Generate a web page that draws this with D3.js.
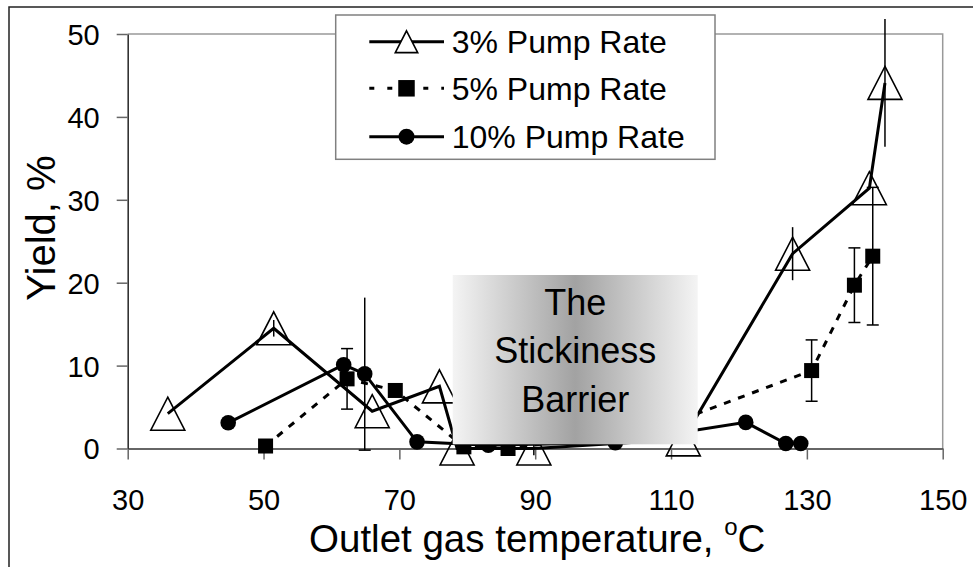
<!DOCTYPE html>
<html>
<head>
<meta charset="utf-8">
<script src="https://cdn.jsdelivr.net/npm/d3@7"></script>
<style>
  html, body { margin: 0; padding: 0; background: #fff; }
  svg { display: block; font-family: "Liberation Sans", Arial, sans-serif; }
</style>
</head>
<body>
<svg id="chart" width="973" height="567"></svg>
<script>
// Yield vs outlet gas temperature for three pump rates
const xTicks = [30, 50, 70, 90, 110, 130, 150];
const yTicks = [0, 10, 20, 30, 40, 50];

const temp3  = [35.9, 51.5, 66.0, 75.9, 78.5, 89.8, 111.8, 127.9, 139.2, 141.5];
const yield3 = [4.2, 14.5, 4.5, 7.5, 0.0, 0.0, 1.1, 23.5, 31.4, 44.1];
const err3   = [0, 1.0, 0, 0, 0, 0.8, 0, 3.2, 0, 7.7];

const temp5  = [50.3, 62.3, 69.4, 79.5, 86.0, 108.0, 130.7, 137.0, 139.7];
const yield5 = [0.3, 8.4, 7.0, 0.2, 0.0, 2.4, 9.4, 19.7, 23.2];
const err5   = [0, 3.65, 0, 0, 0, 0, 3.7, 4.5, 8.3];

const temp10  = [44.8, 61.8, 64.9, 72.6, 83.1, 101.8, 121.0, 126.9, 129.1];
const yield10 = [3.1, 10.1, 9.0, 0.8, 0.4, 0.7, 3.15, 0.6, 0.6];
const err10   = [0, 0, 9.2, 0, 0, 0, 0, 0, 0];

const seriesNames = ["3% Pump Rate", "5% Pump Rate", "10% Pump Rate"];
const annotationLines = ["The", "Stickiness", "Barrier"];

const svg = d3.select("#chart");
const plotL = 127.7, plotR = 942.7, plotT = 34, plotB = 448.5;

const x = d3.scaleLinear().domain([30, 150]).range([plotL, plotR]);
const y = d3.scaleLinear().domain([0, 50]).range([plotB, plotT]);

// outer frame
svg.append("rect").attr("x", 9).attr("y", 7).attr("width", 990).attr("height", 600)
  .attr("fill", "none").attr("stroke", "#222").attr("stroke-width", 1.5);

// plot-area border (top and right)
svg.append("path")
  .attr("d", `M${plotL},${plotT}H${plotR}V${plotB}`)
  .attr("fill", "none").attr("stroke", "#999").attr("stroke-width", 1.5);

// axes
const xAxis = d3.axisBottom(x).tickValues(xTicks).tickSize(11).tickPadding(30).tickSizeOuter(0);
const yAxis = d3.axisLeft(y).tickValues(yTicks).tickSize(11).tickPadding(17).tickSizeOuter(0);

const gx = svg.append("g").attr("transform", `translate(0,${plotB})`).call(xAxis);
const gy = svg.append("g").attr("transform", `translate(${plotL},0)`).call(yAxis);
[gx, gy].forEach(g => {
  g.select(".domain").attr("stroke", "#333").attr("stroke-width", 1.6);
  g.selectAll(".tick line").attr("stroke", "#666").attr("stroke-width", 1.5);
  g.selectAll(".tick text").attr("fill", "#000").attr("font-size", 29)
    .attr("font-family", "'Liberation Sans', Arial, sans-serif");
});
gx.selectAll(".tick text").attr("dy", "0.71em");
gy.selectAll(".tick text").attr("dy", "0.36em");

// axis titles
const xt = svg.append("text").attr("x", (plotL + plotR) / 2 + 2).attr("y", 552)
  .attr("text-anchor", "middle").attr("font-size", 38.5).attr("fill", "#000");
xt.append("tspan").text("Outlet gas temperature, ");
xt.append("tspan").attr("font-size", 24).attr("dy", -17).text("o");
xt.append("tspan").attr("dy", 17).text("C");

svg.append("text").attr("transform", "translate(55,228) rotate(-90)")
  .attr("text-anchor", "middle").attr("font-size", 40).attr("fill", "#000")
  .text("Yield, %");

// marker shapes
const triPath = "M0,-16.5L17,16.5L-17,16.5Z";
function marker(g, kind, cx, cy, scale) {
  const s = scale || 1;
  if (kind === "tri") {
    g.append("path").attr("d", triPath)
      .attr("transform", `translate(${cx},${cy}) scale(${s})`)
      .attr("fill", "none").attr("stroke", "#000").attr("stroke-width", 1.6 / s);
  } else if (kind === "sq") {
    const h = 7.5 * s;
    g.append("rect").attr("x", cx - h).attr("y", cy - h).attr("width", 2 * h).attr("height", 2 * h)
      .attr("fill", "#000");
  } else {
    g.append("circle").attr("cx", cx).attr("cy", cy).attr("r", 7.8 * s).attr("fill", "#000");
  }
}

const series = [
  { xs: temp3,  ys: yield3,  es: err3,  kind: "tri", dash: null,  capTop: false, capBottom: false },
  { xs: temp5,  ys: yield5,  es: err5,  kind: "sq",  dash: "7,8", capTop: true,  capBottom: true },
  { xs: temp10, ys: yield10, es: err10, kind: "dot", dash: null,  capTop: false, capBottom: true }
];

const line = d3.line().x(d => x(d[0])).y(d => y(d[1]));

series.forEach(s => {
  const g = svg.append("g");
  const pts = s.xs.map((t, i) => [t, s.ys[i], s.es[i]]);
  // error bars
  pts.filter(p => p[2] > 0).forEach(p => {
    const px = x(p[0]), y1 = y(p[1] + p[2]), y0 = y(p[1] - p[2]);
    g.append("line").attr("x1", px).attr("x2", px).attr("y1", y1).attr("y2", y0)
      .attr("stroke", "#000").attr("stroke-width", 1.5);
    if (s.capTop) g.append("line").attr("x1", px - 6).attr("x2", px + 6).attr("y1", y1).attr("y2", y1)
      .attr("stroke", "#000").attr("stroke-width", 1.5);
    if (s.capBottom) g.append("line").attr("x1", px - 6).attr("x2", px + 6).attr("y1", y0).attr("y2", y0)
      .attr("stroke", "#000").attr("stroke-width", 1.5);
  });
  g.append("path").attr("d", line(pts)).attr("fill", "none").attr("stroke", "#000")
    .attr("stroke-width", 3).attr("stroke-dasharray", s.dash);
  pts.forEach(p => marker(g, s.kind, x(p[0]), y(p[1])));
});

// annotation box with horizontal grey gradient
const defs = svg.append("defs");
const grad = defs.append("linearGradient").attr("id", "barrierFill")
  .attr("x1", "0%").attr("x2", "100%").attr("y1", "0%").attr("y2", "0%");
grad.append("stop").attr("offset", "0%").attr("stop-color", "#f4f4f4");
grad.append("stop").attr("offset", "50%").attr("stop-color", "#a2a2a2");
grad.append("stop").attr("offset", "100%").attr("stop-color", "#f4f4f4");

const bx0 = 452.7, bx1 = 697.7, by0 = 275, by1 = 444.3;
svg.append("rect").attr("x", bx0).attr("y", by0).attr("width", bx1 - bx0).attr("height", by1 - by0)
  .attr("fill", "url(#barrierFill)");
svg.append("g").selectAll("text").data(annotationLines).join("text")
  .attr("x", (bx0 + bx1) / 2).attr("y", (d, i) => 315 + i * 48.3)
  .attr("text-anchor", "middle").attr("font-size", 36).attr("fill", "#000")
  .text(d => d);

// legend
const lg = svg.append("g");
lg.append("rect").attr("x", 335.7).attr("y", 15).attr("width", 379.3).attr("height", 144.3)
  .attr("fill", "#fff").attr("stroke", "#808080").attr("stroke-width", 1.5);
const rowY = [41.7, 88.3, 136.7];
series.forEach((s, i) => {
  lg.append("line").attr("x1", 369.3).attr("x2", 444).attr("y1", rowY[i]).attr("y2", rowY[i])
    .attr("stroke", "#000").attr("stroke-width", 3).attr("stroke-dasharray", s.dash ? "5,13" : null);
  if (s.kind === "tri") {
    lg.append("path").attr("d", triPath).attr("transform", `translate(406.5,${rowY[i]}) scale(0.66)`)
      .attr("fill", "#fff").attr("stroke", "#000").attr("stroke-width", 1.6 / 0.66);
  } else {
    marker(lg, s.kind, 406.5, rowY[i], s.kind === "sq" ? 1.1 : 1.02);
  }
  lg.append("text").attr("x", 451.7).attr("y", rowY[i] + 11.5)
    .attr("font-size", 32).attr("fill", "#000").text(seriesNames[i]);
});
</script>
</body>
</html>
